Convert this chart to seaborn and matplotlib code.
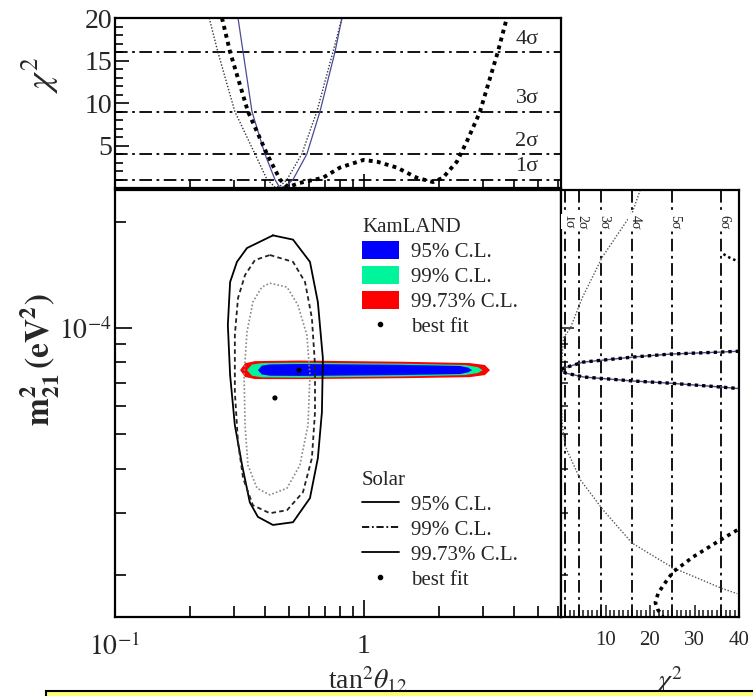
import matplotlib
matplotlib.use("Agg")
import matplotlib.pyplot as plt
import seaborn as sns
from matplotlib.patches import Patch, Rectangle
from matplotlib.lines import Line2D
from matplotlib.ticker import FixedLocator, NullFormatter

# ---------------- data ----------------
# top panel: chi2 vs tan^2(theta12)
solar_top_tan2 = [0.239, 0.259, 0.303, 0.365, 0.408, 0.44, 0.46, 0.491, 0.563, 0.647, 0.751, 0.816]
solar_top_chi2 = [20.0, 16.0, 9.0, 4.0, 1.0, 0.1, 0.2, 1.0, 4.0, 9.0, 16.0, 20.0]

comb_top_tan2 = [0.312, 0.327, 0.355, 0.400, 0.439, 0.460, 0.49, 0.519, 0.590, 0.666, 0.765, 0.816]
comb_top_chi2 = [20.0, 16.0, 9.0, 4.0, 1.0, 0.0, 0.3, 1.0, 4.0, 9.0, 16.0, 20.0]

kl_top_tan2 = [0.269, 0.29, 0.342, 0.408, 0.46, 0.495, 0.553, 0.684, 0.801, 0.996, 1.128,
               1.357, 1.633, 1.893, 2.076, 2.363, 2.593, 2.92, 3.45, 3.75]
kl_top_chi2 = [20.0, 16.0, 9.0, 4.0, 1.0, 0.1, 0.6, 1.2, 2.4, 3.3, 3.1,
               2.4, 1.2, 0.7, 1.2, 3.1, 5.5, 8.9, 16.0, 20.0]

sigma_chi2 = [1, 4, 9, 16, 25, 36]
sigma_labels = ["1σ", "2σ", "3σ", "4σ", "5σ", "6σ"]

# main panel: solar contours (tan^2, dm^2)
sol_9973_tan2 = [0.431, 0.519, 0.607, 0.653, 0.684, 0.678, 0.653, 0.607, 0.519, 0.431, 0.375, 0.348,
                 0.324, 0.303, 0.290, 0.284, 0.290, 0.309, 0.339, 0.431]
sol_9973_dm2 = [1.83e-4, 1.78e-4, 1.54e-4, 1.185e-4, 8.22e-5, 5.78e-5, 4.28e-5, 3.30e-5, 2.82e-5, 2.77e-5,
                2.92e-5, 3.21e-5, 4.09e-5, 5.31e-5, 7.36e-5, 1.02e-4, 1.35e-4, 1.54e-4, 1.685e-4, 1.83e-4]

sol_99_tan2 = [0.419, 0.519, 0.580, 0.618, 0.636, 0.636, 0.618, 0.569, 0.491, 0.419, 0.358, 0.327,
               0.312, 0.303, 0.303, 0.312, 0.333, 0.365, 0.419]
sol_99_dm2 = [1.61e-4, 1.54e-4, 1.35e-4, 1.067e-4, 7.86e-5, 5.78e-5, 4.28e-5, 3.43e-5, 3.05e-5, 2.99e-5,
              3.15e-5, 3.76e-5, 4.75e-5, 6.59e-5, 9.55e-5, 1.216e-4, 1.413e-4, 1.558e-4, 1.61e-4]

sol_95_tan2 = [0.419, 0.491, 0.543, 0.590, 0.607, 0.596, 0.553, 0.491, 0.419, 0.372, 0.342, 0.333,
               0.330, 0.339, 0.358, 0.389, 0.419]
sol_95_dm2 = [1.34e-4, 1.306e-4, 1.162e-4, 9.55e-5, 7.36e-5, 5.31e-5, 4.09e-5, 3.52e-5, 3.37e-5, 3.52e-5,
              4.09e-5, 5.31e-5, 7.36e-5, 9.74e-5, 1.185e-4, 1.306e-4, 1.34e-4]

# KamLAND allowed regions
kl_9973_tan2 = [0.318, 0.333, 0.365, 0.553, 1.395, 2.66, 3.06, 3.21, 3.06, 2.66, 1.395, 0.553, 0.365, 0.333, 0.318]
kl_9973_dm2 = [7.6e-5, 7.95e-5, 8.06e-5, 8.09e-5, 8.03e-5, 7.96e-5, 7.86e-5, 7.6e-5, 7.36e-5, 7.26e-5,
               7.21e-5, 7.17e-5, 7.17e-5, 7.27e-5, 7.6e-5]
kl_99_tan2 = [0.339, 0.355, 0.389, 0.553, 1.395, 2.55, 2.87, 3.0, 2.87, 2.55, 1.395, 0.553, 0.389, 0.355, 0.339]
kl_99_dm2 = [7.6e-5, 7.88e-5, 7.96e-5, 7.98e-5, 7.93e-5, 7.86e-5, 7.75e-5, 7.6e-5, 7.46e-5, 7.36e-5,
             7.29e-5, 7.24e-5, 7.25e-5, 7.33e-5, 7.6e-5]
kl_95_tan2 = [0.375, 0.389, 0.419, 0.553, 1.395, 2.43, 2.62, 2.72, 2.62, 2.43, 1.395, 0.553, 0.419, 0.389, 0.375]
kl_95_dm2 = [7.6e-5, 7.83e-5, 7.89e-5, 7.91e-5, 7.87e-5, 7.81e-5, 7.73e-5, 7.6e-5, 7.49e-5, 7.41e-5,
             7.36e-5, 7.32e-5, 7.33e-5, 7.39e-5, 7.6e-5]

best_fit_tan2 = [0.548, 0.439]   # KamLAND, Solar
best_fit_dm2 = [7.6e-5, 6.34e-5]

# right panel: chi2 vs dm^2
solar_right_chi2 = [17.8, 16.0, 9.3, 4.8, 2.1, 0.6, 0.1, 0.0, 0.3, 1.0, 4.4, 9.5, 16.0, 25.0, 36.2, 39.6]
solar_right_dm2 = [2.46e-4, 2.12e-4, 1.59e-4, 1.22e-4, 1.0e-4, 9.4e-5, 8.0e-5, 6.34e-5, 5.3e-5, 4.61e-5,
                   3.71e-5, 3.05e-5, 2.46e-5, 2.10e-5, 1.83e-5, 1.77e-5]

kl_right_chi2 = [40.0, 35.8, 24.6, 16.3, 5.0, 0.6, 0.0, 1.0, 5.0, 16.3, 24.6, 35.8, 40.0]
kl_right_dm2 = [8.6e-5, 8.55e-5, 8.44e-5, 8.28e-5, 8.01e-5, 7.7e-5, 7.6e-5, 7.46e-5, 7.27e-5, 7.08e-5,
                6.98e-5, 6.81e-5, 6.74e-5]

kl_low_chi2 = [39.6, 35.8, 29.7, 25.2, 23.0, 21.8, 21.2, 21.7, 22.9]
kl_low_dm2 = [2.68e-5, 2.51e-5, 2.25e-5, 2.04e-5, 1.87e-5, 1.77e-5, 1.67e-5, 1.60e-5, 1.52e-5]

kl_high_chi2 = [36.5, 38.0, 40.0]
kl_high_dm2 = [1.62e-4, 1.58e-4, 1.54e-4]

# ticks
x_major = [0.1, 1.0]
x_major_labels = [r"$10^{-1}$", "1"]
x_minor = [0.2, 0.3, 0.4, 0.5, 0.6, 0.7, 0.8, 0.9, 2, 3, 4, 5, 6]
y_major = [1e-4]
y_major_labels = [r"$10^{-4}$"]
y_minor = [2e-5, 3e-5, 4e-5, 5e-5, 6e-5, 7e-5, 8e-5, 9e-5, 2e-4]
top_y_major = [5, 10, 15, 20]
right_x_major = [10, 20, 30, 40]

kl_labels = ["95% C.L.", "99% C.L.", "99.73% C.L.", "best fit"]
kl_colors = ["#0000ff", "#00f59a", "#ff0000"]
sol_labels = ["95% C.L.", "99% C.L.", "99.73% C.L.", "best fit"]

# ---------------- style ----------------
sns.set_theme(style="white")
plt.rcParams["font.family"] = ["Liberation Serif", "DejaVu Serif"]
plt.rcParams["mathtext.fontset"] = "stix"
plt.rcParams["axes.linewidth"] = 1.6
plt.rcParams["axes.edgecolor"] = "black"

W, H = 753, 696
fig = plt.figure(figsize=(W / 100, H / 100), dpi=100)


def rect(l, t, r, b):
    return [l / W, 1 - b / H, (r - l) / W, (b - t) / H]


ax_top = fig.add_axes(rect(115, 18, 561, 188))
ax_main = fig.add_axes(rect(115, 190, 561, 617))
ax_right = fig.add_axes(rect(561, 190, 739, 617))

dashdot = (0, (7, 2.5, 1.5, 2.5))
XLIM = (0.1, 6.19)
YLIM = (1.52e-5, 2.46e-4)

# ---------------- top panel ----------------
for c in sigma_chi2[:4]:
    ax_top.axhline(c, color="black", lw=1.3, ls=dashdot, zorder=1)
sns.lineplot(x=solar_top_tan2, y=solar_top_chi2, ax=ax_top, sort=False, estimator=None,
             color="#333333", lw=1.0, linestyle=(0, (1, 1.3)))
sns.lineplot(x=comb_top_tan2, y=comb_top_chi2, ax=ax_top, sort=False, estimator=None,
             color="#4a4a9a", lw=0.9)
sns.lineplot(x=kl_top_tan2, y=kl_top_chi2, ax=ax_top, sort=False, estimator=None,
             color="black", lw=2.8, linestyle=(0, (1, 1.1)))
for c, lab in zip(sigma_chi2[:4], sigma_labels[:4]):
    ax_top.text(4.52, c + 0.4, lab, ha="center", va="bottom", fontsize=16)

ax_top.set_xscale("log")
ax_top.set_xlim(*XLIM)
ax_top.set_ylim(0, 20)
ax_top.xaxis.set_major_locator(FixedLocator(x_major))
ax_top.xaxis.set_minor_locator(FixedLocator(x_minor))
ax_top.xaxis.set_major_formatter(NullFormatter())
ax_top.xaxis.set_minor_formatter(NullFormatter())
ax_top.yaxis.set_major_locator(FixedLocator(top_y_major))
ax_top.yaxis.set_minor_locator(FixedLocator(list(range(1, 20))))
ax_top.set_yticklabels([str(v) for v in top_y_major])
ax_top.tick_params(which="both", direction="in", top=False, right=False, bottom=True, left=True,
                   width=1.4, labelsize=20, pad=2)
ax_top.tick_params(which="major", length=10)
ax_top.tick_params(which="minor", length=6)
ax_top.set_xlabel("")
ax_top.set_ylabel("")

# ---------------- main panel ----------------
ax_main.fill(kl_9973_tan2, kl_9973_dm2, color=kl_colors[2], lw=0, zorder=2)
ax_main.fill(kl_99_tan2, kl_99_dm2, color=kl_colors[1], lw=0, zorder=2)
ax_main.fill(kl_95_tan2, kl_95_dm2, color=kl_colors[0], lw=0, zorder=2)
sns.lineplot(x=sol_9973_tan2, y=sol_9973_dm2, ax=ax_main, sort=False, estimator=None,
             color="black", lw=1.3)
sns.lineplot(x=sol_99_tan2, y=sol_99_dm2, ax=ax_main, sort=False, estimator=None,
             color="#222222", lw=1.3, linestyle=(0, (2.5, 1.8)))
sns.lineplot(x=sol_95_tan2, y=sol_95_dm2, ax=ax_main, sort=False, estimator=None,
             color="#888888", lw=1.2, linestyle=(0, (1, 1.3)))
sns.scatterplot(x=best_fit_tan2, y=best_fit_dm2, ax=ax_main, color="black", s=14,
                edgecolor="none", zorder=5)

ax_main.set_xscale("log")
ax_main.set_yscale("log")
ax_main.set_xlim(*XLIM)
ax_main.set_ylim(*YLIM)
ax_main.xaxis.set_major_locator(FixedLocator(x_major))
ax_main.xaxis.set_minor_locator(FixedLocator(x_minor))
ax_main.set_xticklabels(x_major_labels)
ax_main.xaxis.set_minor_formatter(NullFormatter())
ax_main.yaxis.set_major_locator(FixedLocator(y_major))
ax_main.yaxis.set_minor_locator(FixedLocator(y_minor))
ax_main.set_yticklabels(y_major_labels)
ax_main.yaxis.set_minor_formatter(NullFormatter())
ax_main.tick_params(which="both", direction="in", top=False, right=False, bottom=True, left=True,
                    width=1.4, labelsize=20)
ax_main.tick_params(axis="x", pad=12)
ax_main.tick_params(axis="y", pad=2)
ax_main.tick_params(which="major", length=12)
ax_main.tick_params(which="minor", length=8)
ax_main.set_xlabel("")
ax_main.set_ylabel("")

kl_handles = [Patch(facecolor=c, edgecolor="none") for c in kl_colors] + \
    [Line2D([], [], ls="none", marker="o", ms=3, color="black")]
leg1 = ax_main.legend(kl_handles, kl_labels, title="KamLAND", loc="upper left",
                      bbox_to_anchor=(0.554, 0.934), frameon=False, fontsize=15, title_fontsize=15,
                      handlelength=1.75, handleheight=0.9, handletextpad=0.6, labelspacing=0.2,
                      borderpad=0, borderaxespad=0, alignment="left")
ax_main.add_artist(leg1)
sol_handles = [Line2D([], [], color="black", lw=1.3),
               Line2D([], [], color="black", lw=1.3, ls=(0, (4, 1.5, 1, 1.5))),
               Line2D([], [], color="black", lw=1.3),
               Line2D([], [], ls="none", marker="o", ms=3, color="black")]
leg2 = ax_main.legend(sol_handles, sol_labels, title="Solar", loc="upper left",
                      bbox_to_anchor=(0.554, 0.343), frameon=False, fontsize=15, title_fontsize=15,
                      handlelength=1.75, handleheight=0.9, handletextpad=0.6, labelspacing=0.2,
                      borderpad=0, borderaxespad=0, alignment="left")

# ---------------- right panel ----------------
for c in sigma_chi2:
    ax_right.axvline(c, color="black", lw=1.3, ls=dashdot, zorder=1)
for c, lab in zip(sigma_chi2, sigma_labels):
    ax_right.text(c + 0.6, 2.0e-4, lab, rotation=-90, ha="center", va="center", fontsize=10,
                  bbox=dict(fc="white", ec="none", pad=0.2), zorder=3)
sns.lineplot(x=solar_right_chi2, y=solar_right_dm2, ax=ax_right, sort=False, estimator=None,
             color="#555555", lw=1.0, linestyle=(0, (1, 1.3)))
sns.lineplot(x=kl_right_chi2, y=kl_right_dm2, ax=ax_right, sort=False, estimator=None,
             color="#4a4a9a", lw=1.0)
sns.lineplot(x=kl_right_chi2, y=kl_right_dm2, ax=ax_right, sort=False, estimator=None,
             color="black", lw=2.4, linestyle=(0, (1, 1.2)))
sns.lineplot(x=kl_low_chi2, y=kl_low_dm2, ax=ax_right, sort=False, estimator=None,
             color="black", lw=2.6, linestyle=(0, (1, 1.2)))
sns.lineplot(x=kl_high_chi2, y=kl_high_dm2, ax=ax_right, sort=False, estimator=None,
             color="black", lw=1.8, linestyle=(0, (1, 1.2)))

ax_right.set_yscale("log")
ax_right.set_ylim(*YLIM)
ax_right.set_xlim(0, 40)
ax_right.xaxis.set_major_locator(FixedLocator(right_x_major))
ax_right.xaxis.set_minor_locator(FixedLocator(list(range(1, 40))))
ax_right.set_xticklabels([str(v) for v in right_x_major])
ax_right.yaxis.set_major_locator(FixedLocator(y_major))
ax_right.yaxis.set_minor_locator(FixedLocator(y_minor))
ax_right.yaxis.set_major_formatter(NullFormatter())
ax_right.yaxis.set_minor_formatter(NullFormatter())
ax_right.tick_params(which="both", direction="in", top=False, right=False, bottom=True, left=True,
                     width=1.2, labelsize=15, pad=10)
ax_right.tick_params(which="major", length=9)
ax_right.tick_params(which="minor", length=5)
ax_right.set_xlabel("")
ax_right.set_ylabel("")

# ---------------- axis titles ----------------
fig.text(40 / W, 1 - 75 / H, r"$\chi^2$", rotation=90, ha="center", va="center", fontsize=26)
fig.text(40 / W, 1 - 360 / H, r"$\mathbf{m^2_{21}\,(eV^2)}$", rotation=90, ha="center",
         va="center", fontsize=24)
fig.text(368 / W, 7 / H, r"tan$^2\theta_{12}$", ha="center", va="baseline", fontsize=20)
fig.text(668 / W, 7 / H, r"$\chi^2$", ha="center", va="baseline", fontsize=20)

# yellow caption box at the bottom edge
fig.patches.append(Rectangle((46 / W, -0.01), 1.0, 0.01 + 5 / H, transform=fig.transFigure,
                             facecolor="#ffff70", edgecolor="black", lw=1.5, zorder=10))

fig.savefig("out.png", dpi=100)
